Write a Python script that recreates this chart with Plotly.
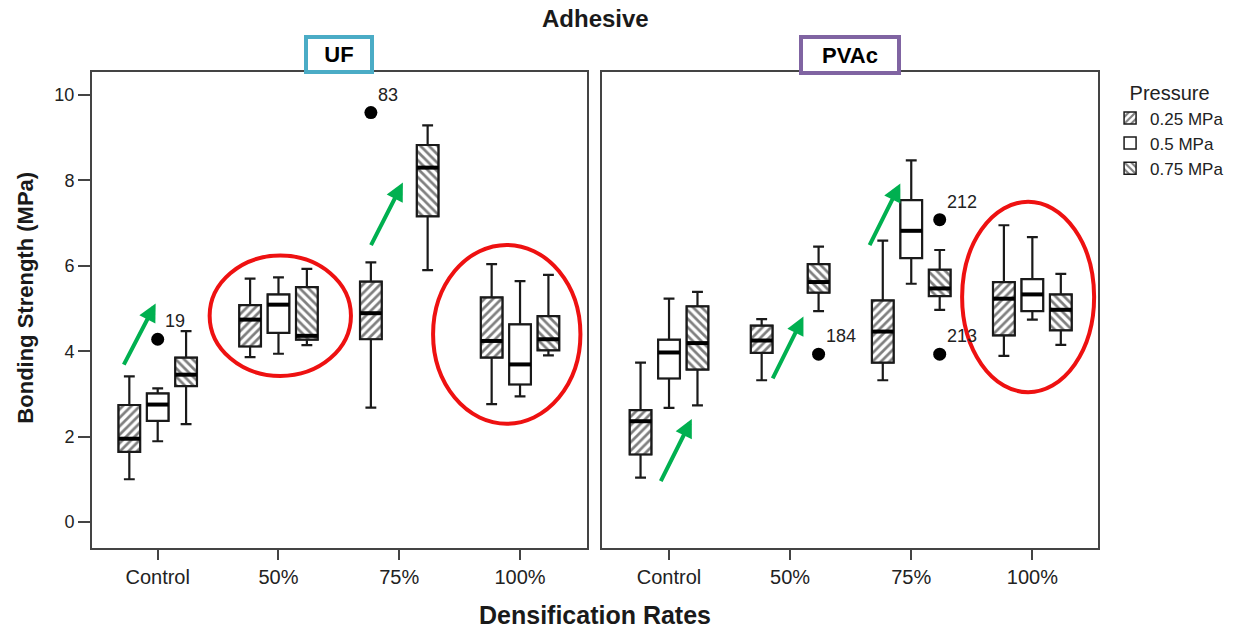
import plotly.graph_objects as go

# ---------------- data ----------------
CATEGORIES = ["Control", "50%", "75%", "100%"]
PRESSURES = ["0.25 MPa", "0.5 MPa", "0.75 MPa"]

# rows: 0.25 / 0.5 / 0.75 MPa ; columns: Control, 50%, 75%, 100%
UF_LOW = [[1.00, 3.86, 2.68, 2.76],
          [1.89, 3.94, None, 2.94],
          [2.29, 4.14, 5.90, 3.90]]
UF_Q1 = [[1.64, 4.11, 4.28, 3.85],
         [2.37, 4.43, None, 3.22],
         [3.18, 4.27, 7.16, 4.02]]
UF_MED = [[1.95, 4.74, 4.89, 4.24],
          [2.75, 5.09, None, 3.69],
          [3.45, 4.36, 8.30, 4.28]]
UF_Q3 = [[2.74, 5.08, 5.63, 5.26],
         [3.01, 5.33, None, 4.63],
         [3.85, 5.50, 8.83, 4.82]]
UF_HIGH = [[3.41, 5.70, 6.08, 6.04],
           [3.13, 5.73, None, 5.64],
           [4.47, 5.93, 9.29, 5.79]]

PVAC_LOW = [[1.04, 3.32, 3.32, 3.89],
            [2.67, None, 5.58, 4.74],
            [2.73, 4.94, 4.97, 4.15]]
PVAC_Q1 = [[1.58, 3.96, 3.73, 4.37],
           [3.36, None, 6.18, 4.94],
           [3.57, 5.37, 5.29, 4.49]]
PVAC_MED = [[2.36, 4.25, 4.46, 5.23],
            [3.97, None, 6.82, 5.33],
            [4.19, 5.62, 5.47, 4.97]]
PVAC_Q3 = [[2.62, 4.60, 5.19, 5.62],
            [4.27, None, 7.54, 5.69],
            [5.05, 6.04, 5.91, 5.33]]
PVAC_HIGH = [[3.73, 4.75, 6.59, 6.95],
             [5.23, None, 8.47, 6.67],
             [5.39, 6.45, 6.37, 5.81]]

OUTLIER_PANEL = ["UF", "UF", "PVAc", "PVAc", "PVAc"]
OUTLIER_CAT = [0, 2, 1, 2, 2]
OUTLIER_PRESSURE = [1, 0, 2, 2, 2]
OUTLIER_VALUE = [4.28, 9.59, 3.93, 7.08, 3.93]
OUTLIER_LABEL = ["19", "83", "184", "212", "213"]

# ---------------- style ----------------
FONT = "Liberation Sans, Arial, sans-serif"
OFFSETS = [-0.235, 0.0, 0.235]
BOX_W = 0.18
HATCH = ["/", "", "\\"]
INK = "#1a1a1a"
FRAME = "#444444"

fig = go.Figure()

panels = [
    ("UF", "x", "y", UF_LOW, UF_Q1, UF_MED, UF_Q3, UF_HIGH),
    ("PVAc", "x2", "y2", PVAC_LOW, PVAC_Q1, PVAC_MED, PVAC_Q3, PVAC_HIGH),
]

for pi, (pname, xa, ya, LOW, Q1, MED, Q3, HIGH) in enumerate(panels):
    for p in range(3):
        idx = [c for c in range(len(CATEGORIES)) if MED[p][c] is not None]
        xs = [c + OFFSETS[p] for c in idx]
        q1 = [Q1[p][c] for c in idx]
        q3 = [Q3[p][c] for c in idx]
        med = [MED[p][c] for c in idx]
        lo = [LOW[p][c] for c in idx]
        hi = [HIGH[p][c] for c in idx]
        # hatched box body
        fig.add_trace(go.Bar(
            x=xs, y=[b - a for a, b in zip(q1, q3)], base=q1, width=BOX_W,
            xaxis=xa, yaxis=ya, name=PRESSURES[p], legendgroup=PRESSURES[p],
            showlegend=(pi == 0),
            marker=dict(color="white",
                        line=dict(color=INK, width=1.5),
                        pattern=dict(shape=HATCH[p], fgcolor="black", bgcolor="white",
                                     size=6, solidity=0.45)),
            hoverinfo="skip"))
        # whiskers / outline
        fig.add_trace(go.Box(
            x=xs, q1=q1, median=med, q3=q3, lowerfence=lo, upperfence=hi,
            width=BOX_W, whiskerwidth=0.5, xaxis=xa, yaxis=ya,
            fillcolor="rgba(0,0,0,0)", line=dict(color=INK, width=2.2),
            showlegend=False, hoverinfo="skip", boxpoints=False))
        # thick median line
        mx, my = [], []
        for x, m in zip(xs, med):
            mx += [x - BOX_W / 2, x + BOX_W / 2, None]
            my += [m, m, None]
        fig.add_trace(go.Scatter(x=mx, y=my, mode="lines", xaxis=xa, yaxis=ya,
                                 line=dict(color="black", width=4),
                                 showlegend=False, hoverinfo="skip"))

# outliers
for pi, (pname, xa, ya, *_r) in enumerate(panels):
    sel = [i for i in range(len(OUTLIER_VALUE)) if OUTLIER_PANEL[i] == pname]
    ox = [OUTLIER_CAT[i] + OFFSETS[OUTLIER_PRESSURE[i]] for i in sel]
    oy = [OUTLIER_VALUE[i] for i in sel]
    fig.add_trace(go.Scatter(x=ox, y=oy, mode="markers", xaxis=xa, yaxis=ya,
                             marker=dict(color="black", size=13),
                             showlegend=False, hoverinfo="skip"))
    for x, y, i in zip(ox, oy, sel):
        fig.add_annotation(x=x, y=y, xref=xa, yref=ya, text=OUTLIER_LABEL[i],
                           showarrow=False, xanchor="left", yanchor="bottom",
                           xshift=5, yshift=6,
                           font=dict(family=FONT, size=18, color="#222"))

# ---------------- red ellipses & green arrows (annotations) ----------------
ellipses = [("x", "y", 0.43, 1.60, 3.42, 6.24),
            ("x", "y", 2.28, 3.50, 2.30, 6.49),
            ("x2", "y2", 2.42, 3.51, 3.04, 7.50)]
for xr, yr, x0, x1, y0, y1 in ellipses:
    fig.add_shape(type="circle", xref=xr, yref=yr, x0=x0, x1=x1, y0=y0, y1=y1,
                  line=dict(color="#ee1111", width=4))

arrows = [("x", "y", -0.287, 3.65, -0.017, 5.12),
          ("x", "y", 1.76, 6.45, 2.03, 7.95),
          ("x2", "y2", -0.074, 0.92, 0.188, 2.41),
          ("x2", "y2", 0.85, 3.33, 1.11, 4.81),
          ("x2", "y2", 1.65, 6.45, 1.91, 7.93)]
for xr, yr, tx, ty, hx, hy in arrows:
    fig.add_annotation(x=hx, y=hy, ax=tx, ay=ty, xref=xr, yref=yr, axref=xr, ayref=yr,
                       text="", showarrow=True, arrowhead=2, arrowsize=0.9,
                       arrowwidth=4, arrowcolor="#00b050", standoff=0)

# ---------------- titles ----------------
fig.add_annotation(text="<b>Adhesive</b>", xref="paper", yref="paper", x=0.5, y=1.113,
                   xanchor="center", yanchor="middle",
                   showarrow=False, font=dict(family=FONT, size=24, color=INK))
fig.add_annotation(text="<b>UF</b>", xref="x domain", yref="paper", x=0.5, y=1.036,
                   xanchor="center", yanchor="middle",
                   showarrow=False, font=dict(family=FONT, size=22, color="black"),
                   bordercolor="#4bacc6", borderwidth=4, borderpad=0, bgcolor="white",
                   width=62, height=31)
fig.add_annotation(text="<b>PVAc</b>", xref="x2 domain", yref="paper", x=0.5, y=1.036,
                   xanchor="center", yanchor="middle",
                   showarrow=False, font=dict(family=FONT, size=22, color="black"),
                   bordercolor="#8064a2", borderwidth=4, borderpad=0, bgcolor="white",
                   width=94, height=32)
fig.add_annotation(text="<b>Bonding Strength (MPa)</b>", xref="paper", yref="paper",
                   x=-0.0656, y=0.526, textangle=-90, showarrow=False,
                   xanchor="center", yanchor="middle",
                   font=dict(family=FONT, size=22, color=INK))
fig.add_annotation(text="<b>Densification Rates</b>", xref="paper", yref="paper",
                   x=0.5, y=-0.14, showarrow=False, xanchor="center", yanchor="middle",
                   font=dict(family=FONT, size=25, color=INK))

# ---------------- axes ----------------
xcommon = dict(tickmode="array", tickvals=list(range(len(CATEGORIES))), ticktext=CATEGORIES,
               showgrid=False, zeroline=False, showline=True, mirror=True,
               linecolor=FRAME, linewidth=2, ticks="outside", ticklen=10, tickwidth=2,
               tickcolor=FRAME, tickfont=dict(family=FONT, size=20, color="#222"))
fig.update_layout(
    xaxis=dict(domain=[0, 0.492], range=[-0.544, 3.554], anchor="y", **xcommon),
    xaxis2=dict(domain=[0.507, 1.0], range=[-0.553, 3.542], anchor="y2", **xcommon),
    yaxis=dict(range=[-0.61, 10.54], tickvals=[0, 2, 4, 6, 8, 10], showgrid=False,
               zeroline=False, showline=True, mirror=True, linecolor=FRAME, linewidth=2,
               ticks="outside", ticklen=12, tickwidth=2, tickcolor=FRAME,
               tickfont=dict(family=FONT, size=18, color="#222"), anchor="x"),
    yaxis2=dict(range=[-0.61, 10.54], matches="y", showticklabels=False, ticks="",
                showgrid=False, zeroline=False, showline=True, mirror=True,
                linecolor=FRAME, linewidth=2, anchor="x2"),
    barmode="overlay", boxmode="overlay",
    width=1247, height=630,
    margin=dict(l=92, r=149, t=72, b=82),
    plot_bgcolor="white", paper_bgcolor="white",
    legend=dict(x=1.012, y=0.995, xanchor="left", yanchor="top",
                title=dict(text="Pressure", side="top center",
                           font=dict(family=FONT, size=20, color="#222")),
                font=dict(family=FONT, size=17, color="#222"),
                bgcolor="rgba(0,0,0,0)", tracegroupgap=0, borderwidth=0),
    font=dict(family=FONT, color=INK),
)

fig.write_html("out.html", config={"displayModeBar": False},
               post_script="document.body.style.margin='0px';document.body.style.padding='0px';")
